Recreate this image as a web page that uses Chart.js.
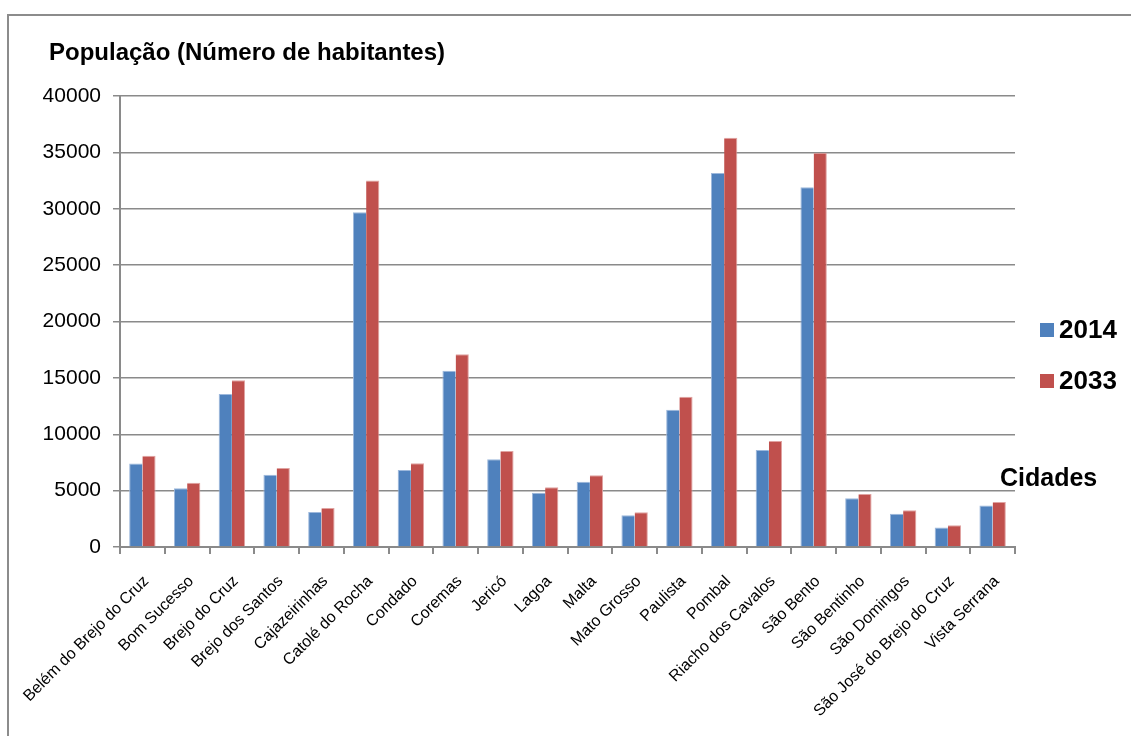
<!DOCTYPE html>
<html>
<head>
<meta charset="utf-8">
<script src="https://cdn.jsdelivr.net/npm/chart.js"></script>
<style>
  html, body { margin: 0; padding: 0; background: #fff; }
  #wrap { position: relative; width: 1131px; height: 736px; }
</style>
</head>
<body>
<div id="wrap"><canvas id="popChart" width="1131" height="736"></canvas></div>
<script>
const cidades = ['Belém do Brejo do Cruz', 'Bom Sucesso', 'Brejo do Cruz', 'Brejo dos Santos', 'Cajazeirinhas',
    'Catolé do Rocha', 'Condado', 'Coremas', 'Jericó', 'Lagoa', 'Malta', 'Mato Grosso', 'Paulista', 'Pombal',
    'Riacho dos Cavalos', 'São Bento', 'São Bentinho', 'São Domingos', 'São José do Brejo do Cruz', 'Vista Serrana'];
const pop2014 = [7400, 5200, 13570, 6400, 3100, 29700, 6830, 15640, 7780, 4820, 5790, 2810, 12180, 33170,
    8600, 31900, 4320, 2960, 1740, 3670];
const pop2033 = [8100, 5700, 14800, 7000, 3460, 32500, 7420, 17100, 8510, 5300, 6360, 3080, 13330, 36300,
    9400, 34970, 4700, 3250, 1920, 3990];
const yTicks = [0, 5000, 10000, 15000, 20000, 25000, 30000, 35000, 40000];

const FONT = 'Arial, "Liberation Sans", sans-serif';
const GRID = '#8a8a8a';

// title, axis caption, legend and frame drawn on the canvas
const extras = {
    id: 'extras',
    afterDraw(chart) {
        const ctx = chart.ctx;
        ctx.save();
        // frame: top and left edge only
        ctx.strokeStyle = '#8c8c8c';
        ctx.lineWidth = 2;
        ctx.beginPath();
        ctx.moveTo(8, 736);
        ctx.lineTo(8, 15);
        ctx.lineTo(1131, 15);
        ctx.stroke();

        ctx.fillStyle = '#000';
        ctx.textBaseline = 'middle';
        ctx.textAlign = 'left';
        ctx.font = 'bold 24px ' + FONT;
        ctx.fillText('População (Número de habitantes)', 49, 53);

        ctx.font = 'bold 25px ' + FONT;
        ctx.fillText('Cidades', 1000, 479);

        chart.data.datasets.forEach((ds, i) => {
            const y = 330 + i * 51;
            ctx.fillStyle = ds.backgroundColor;
            ctx.fillRect(1040, y - 7, 14, 14);
            ctx.fillStyle = '#000';
            ctx.font = 'bold 26px ' + FONT;
            ctx.fillText(ds.label, 1059, y + 1);
        });
        ctx.restore();
    }
};

new Chart(document.getElementById('popChart').getContext('2d'), {
    type: 'bar',
    data: {
        labels: cidades,
        datasets: [{
            label: '2014',
            data: pop2014,
            backgroundColor: '#4F81BD',
            borderColor: '#9db8dc',
            borderWidth: { top: 1, left: 1, right: 0, bottom: 0 },
            categoryPercentage: 0.59,
            barPercentage: 1.0
        }, {
            label: '2033',
            data: pop2033,
            backgroundColor: '#C0504D',
            borderColor: '#e0a3a1',
            borderWidth: { top: 1, left: 0, right: 1, bottom: 0 },
            categoryPercentage: 0.59,
            barPercentage: 1.0
        }]
    },
    options: {
        responsive: false,
        animation: false,
        layout: { padding: { left: 0, top: 96, right: 116, bottom: 0 } },
        plugins: {
            legend: { display: false },
            tooltip: { enabled: false }
        },
        scales: {
            x: {
                grid: { drawOnChartArea: false, drawTicks: true, tickLength: 7, color: GRID, lineWidth: 2, offset: true },
                border: { color: GRID, width: 2 },
                ticks: {
                    color: '#000',
                    font: { family: FONT, size: 16 },
                    minRotation: 45,
                    maxRotation: 45,
                    autoSkip: false,
                    padding: 18,
                    labelOffset: 4
                },
                afterFit(scale) { scale.height = 189; }
            },
            y: {
                min: 0,
                max: 40000,
                afterBuildTicks(scale) { scale.ticks = yTicks.map(v => ({ value: v })); },
                grid: { color: GRID, lineWidth: 1.5, tickLength: 7 },
                border: { color: GRID, width: 2 },
                ticks: {
                    color: '#000',
                    font: { family: FONT, size: 21 },
                    padding: 12,
                    callback: (v) => String(v)
                },
                afterFit(scale) { scale.width = 120; }
            }
        }
    },
    plugins: [extras]
});
</script>
</body>
</html>
